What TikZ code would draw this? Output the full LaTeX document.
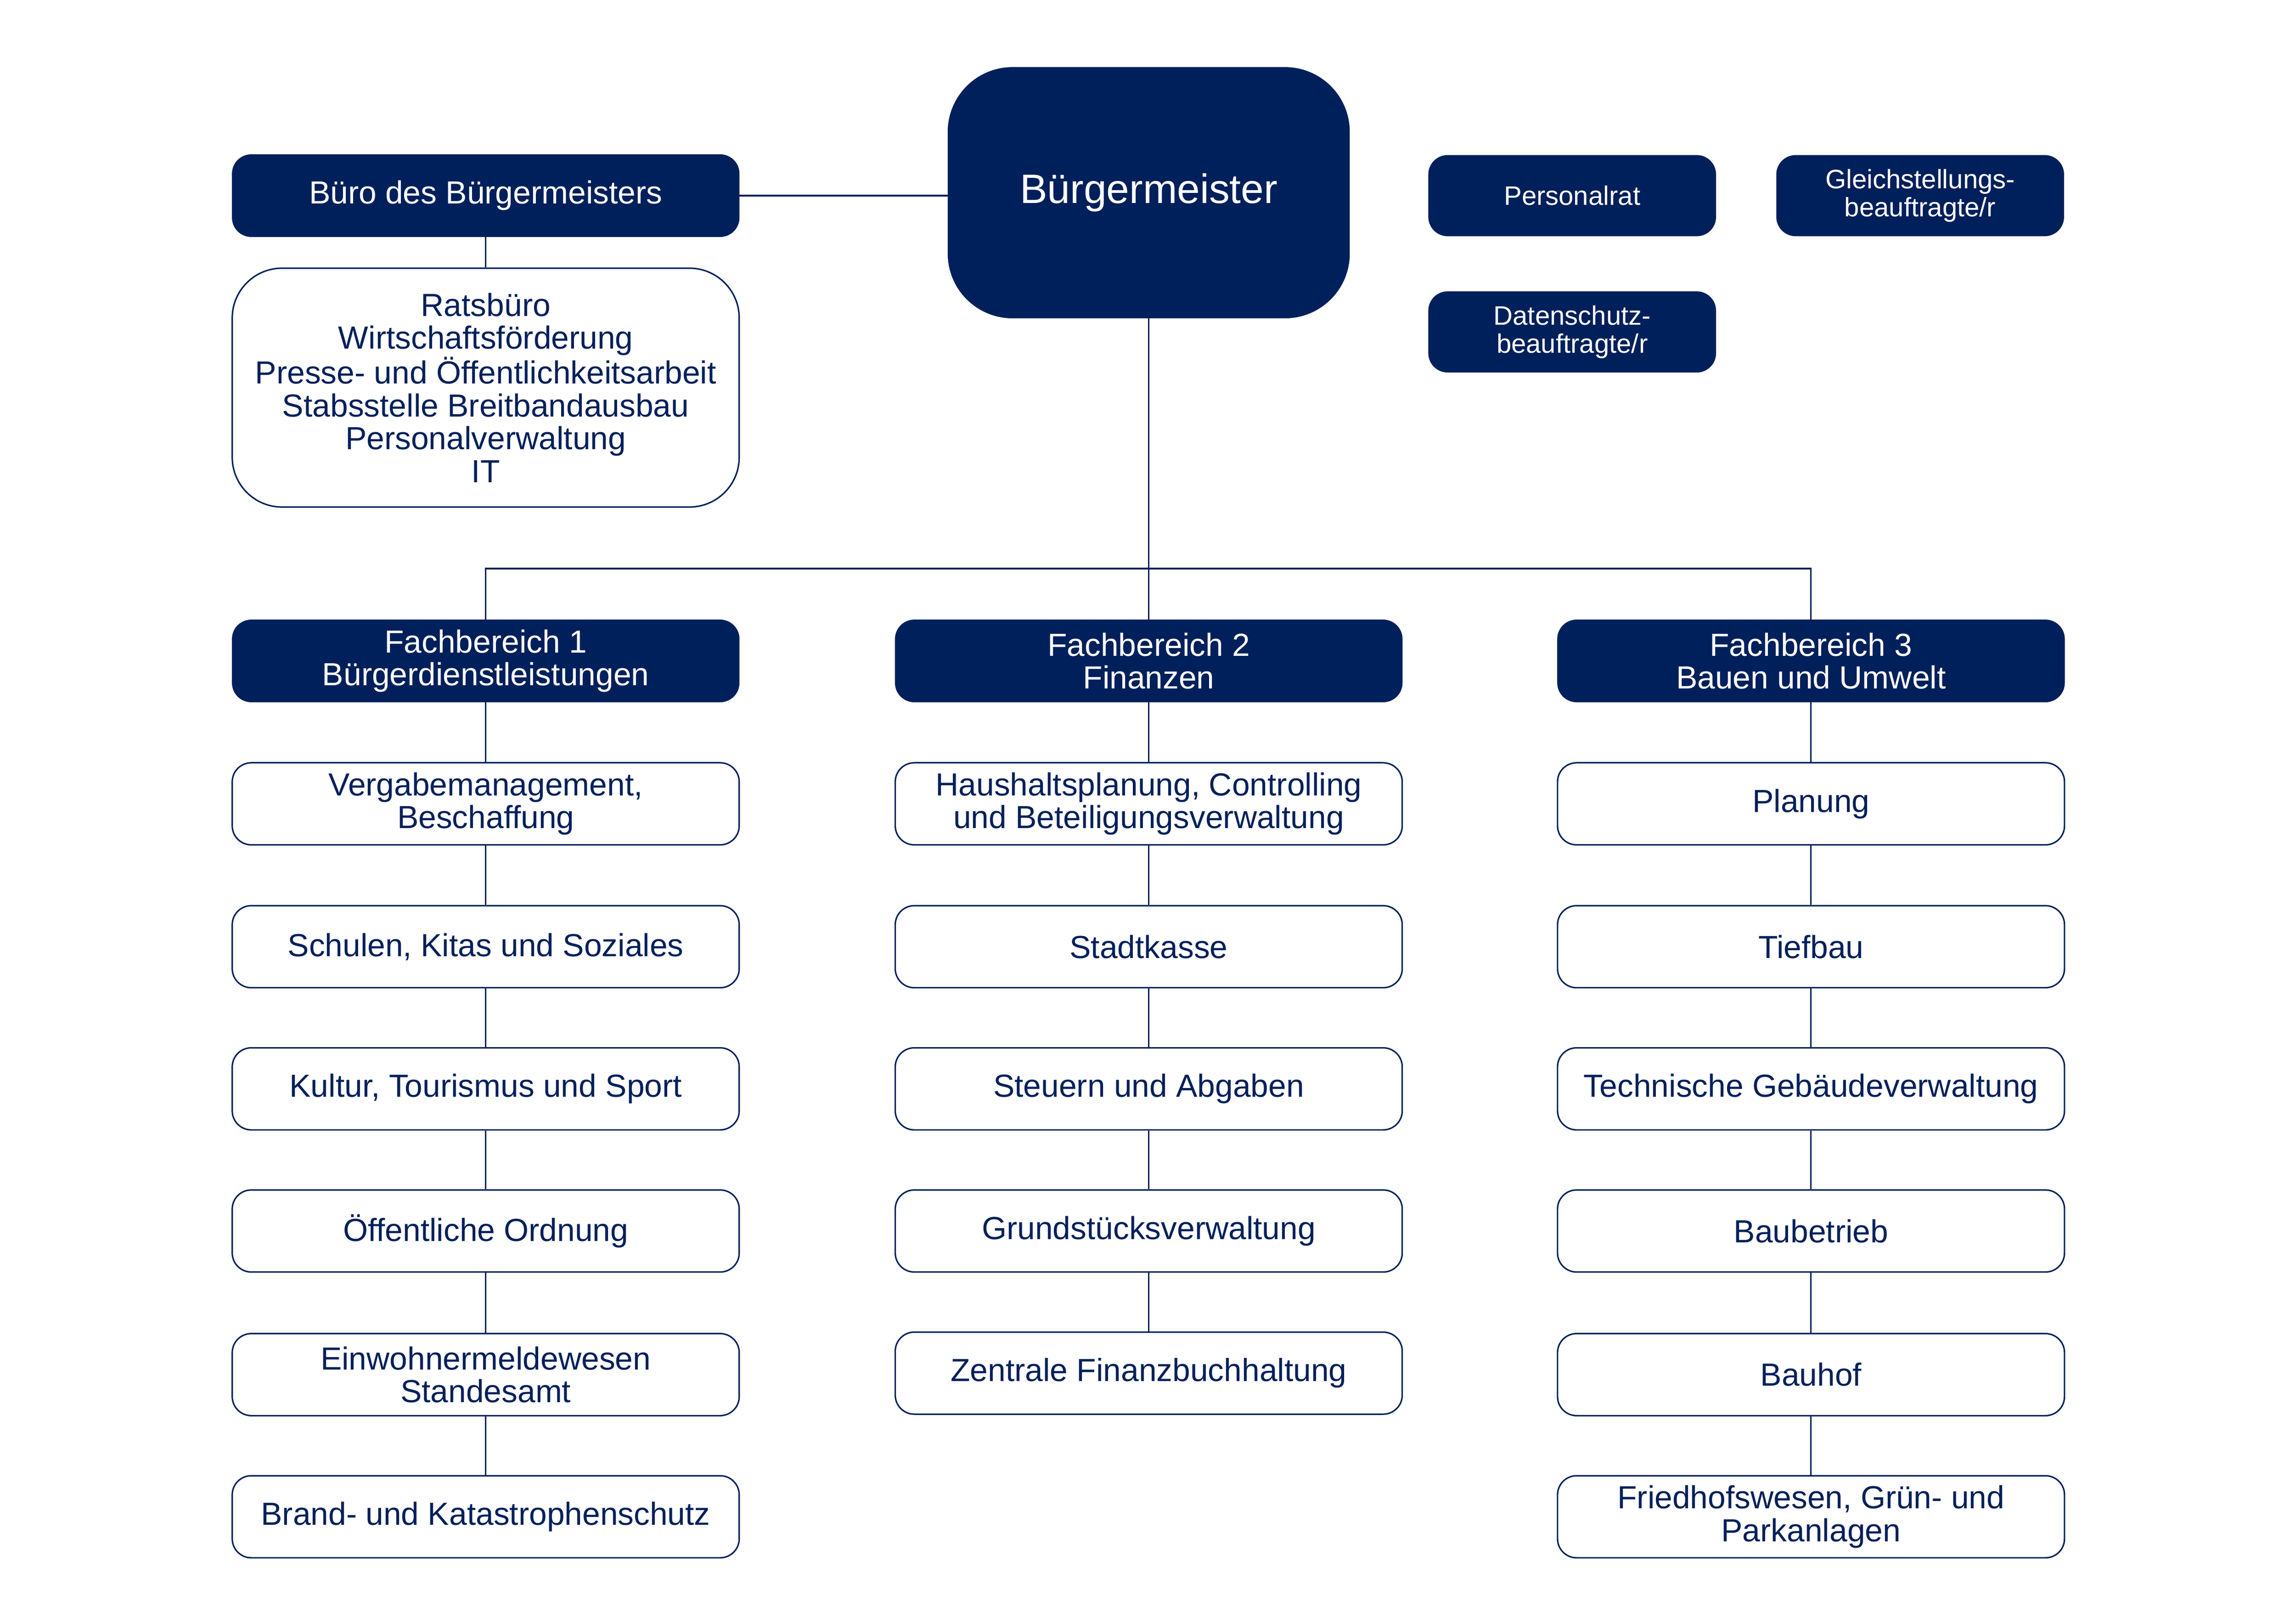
\documentclass[tikz,border=0pt]{standalone}
\usepackage{fontspec}
\setmainfont{Liberation Sans}
\definecolor{navy}{HTML}{00205B}
\begin{document}
\begin{tikzpicture}[x=1pt,y=1pt,
  darkbox/.style={draw=navy,fill=navy,text=white,rounded corners=13pt,minimum width=346pt,minimum height=56pt,align=center,inner sep=2pt,font=\fontsize{21.8}{22.4}\selectfont},
  smallbox/.style={draw=navy,fill=navy,text=white,rounded corners=13pt,minimum width=196pt,minimum height=55pt,align=center,inner sep=2pt,font=\fontsize{18.2}{19}\selectfont},
  unitbox/.style={draw=navy,line width=1pt,fill=white,text=navy,rounded corners=13pt,minimum width=346pt,minimum height=56pt,align=center,inner sep=2pt,font=\fontsize{21.8}{22.4}\selectfont},
  conn/.style={draw=navy,line width=1pt}]
\useasboundingbox (0,0) rectangle (1567,-1108);
% top
\node[draw=navy,fill=navy,text=white,rounded corners=44pt,minimum width=274pt,minimum height=171pt,font=\fontsize{28}{31}\selectfont] (bm) at (784,-131.5) {Bürgermeister};
\node[darkbox] (buero) at (331.5,-133.5) {Büro des Bürgermeisters};
\node[unitbox,rounded corners=34pt,minimum height=163pt] (rats) at (331.5,-264.5) {Ratsbüro\\Wirtschaftsförderung\\Presse- und Öffentlichkeitsarbeit\\Stabsstelle Breitbandausbau\\Personalverwaltung\\IT};
\node[smallbox] (prat) at (1073,-133.5) {Personalrat};
\node[smallbox] (gleich) at (1310.5,-133.5) {Gleichstellungs-\\beauftragte/r};
\node[smallbox] (daten) at (1073,-226.5) {Datenschutz-\\beauftragte/r};
% departments
\node[darkbox] (fb1) at (331.5,-451) {Fachbereich 1\\Bürgerdienstleistungen};
\node[darkbox] (fb2) at (784,-451) {Fachbereich 2\\Finanzen};
\node[darkbox] (fb3) at (1236,-451) {Fachbereich 3\\Bauen und Umwelt};
% column 1
\node[unitbox] (a1) at (331.5,-548.5) {Vergabemanagement,\\Beschaffung};
\node[unitbox] (a2) at (331.5,-646) {Schulen, Kitas und Soziales};
\node[unitbox] (a3) at (331.5,-743) {Kultur, Tourismus und Sport};
\node[unitbox] (a4) at (331.5,-840) {Öffentliche Ordnung};
\node[unitbox] (a5) at (331.5,-938) {Einwohnermeldewesen\\Standesamt};
\node[unitbox] (a6) at (331.5,-1035) {Brand- und Katastrophenschutz};
% column 2
\node[unitbox] (b1) at (784,-548.5) {Haushaltsplanung, Controlling\\und Beteiligungsverwaltung};
\node[unitbox] (b2) at (784,-646) {Stadtkasse};
\node[unitbox] (b3) at (784,-743) {Steuern und Abgaben};
\node[unitbox] (b4) at (784,-840) {Grundstücksverwaltung};
\node[unitbox] (b5) at (784,-937) {Zentrale Finanzbuchhaltung};
% column 3
\node[unitbox] (c1) at (1236,-548.5) {Planung};
\node[unitbox] (c2) at (1236,-646) {Tiefbau};
\node[unitbox] (c3) at (1236,-743) {Technische Gebäudeverwaltung};
\node[unitbox] (c4) at (1236,-840) {Baubetrieb};
\node[unitbox] (c5) at (1236,-938) {Bauhof};
\node[unitbox] (c6) at (1236,-1035) {Friedhofswesen, Grün- und\\Parkanlagen};
% connectors
\coordinate (bus) at (784,-388);
\draw[conn] (buero.east) -- (buero.east -| bm.west);
\draw[conn] (buero.south) -- (rats.north);
\draw[conn] (bm.south) -- (bus);
\draw[conn] (fb1.north) |- (bus) -| (fb3.north);
\draw[conn] (bus) -- (fb2.north);
\draw[conn] (fb1.south) -- (a1.north);
\draw[conn] (a1.south) -- (a2.north);
\draw[conn] (a2.south) -- (a3.north);
\draw[conn] (a3.south) -- (a4.north);
\draw[conn] (a4.south) -- (a5.north);
\draw[conn] (a5.south) -- (a6.north);
\draw[conn] (fb2.south) -- (b1.north);
\draw[conn] (b1.south) -- (b2.north);
\draw[conn] (b2.south) -- (b3.north);
\draw[conn] (b3.south) -- (b4.north);
\draw[conn] (b4.south) -- (b5.north);
\draw[conn] (fb3.south) -- (c1.north);
\draw[conn] (c1.south) -- (c2.north);
\draw[conn] (c2.south) -- (c3.north);
\draw[conn] (c3.south) -- (c4.north);
\draw[conn] (c4.south) -- (c5.north);
\draw[conn] (c5.south) -- (c6.north);
\end{tikzpicture}
\end{document}
